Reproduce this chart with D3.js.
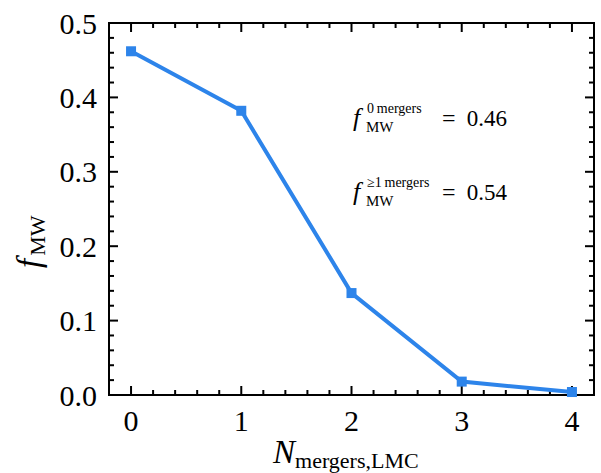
<!DOCTYPE html>
<html><head><meta charset="utf-8">
<script src="https://cdn.jsdelivr.net/npm/d3@7"></script>
<style>body{margin:0;background:#fff}svg{display:block}text{font-family:"Liberation Serif","Times New Roman",serif;fill:#000}</style>
</head><body><svg id="c" width="601" height="473"></svg>
<script>
const nMergers = [0, 1, 2, 3, 4];
const fMW = [0.462, 0.382, 0.137, 0.018, 0.004];
const xTicks = [0, 1, 2, 3, 4];
const yTicks = [0, 0.1, 0.2, 0.3, 0.4, 0.5];
const yTickLabels = ["0.0", "0.1", "0.2", "0.3", "0.4", "0.5"];
const annotations = [{sup: "0\u2009mergers", val: "0.46"}, {sup: "\u22651\u2009mergers", val: "0.54"}];

const svg = d3.select("#c");
const L = 109, R = 594, T = 23, B = 395;
const x = d3.scaleLinear([-0.2, 4.2], [L, R]);
const y = d3.scaleLinear([0, 0.5], [B, T]);
const blue = "#2d84ea";
const serif = "'Liberation Serif','Times New Roman',serif";

const xMinor = d3.range(-0.2, 4.2001, 0.2).map(v => +v.toFixed(2)).filter(v => !xTicks.includes(v) && v > -0.2 && v < 4.2);
const yMinor = d3.range(0, 0.5001, 0.02).map(v => +v.toFixed(2)).filter(v => !yTicks.some(t => Math.abs(t - v) < 1e-9));

const g = svg.append("g");
const tick = (x1, y1, x2, y2) => g.append("line").attr("x1", x1).attr("y1", y1).attr("x2", x2).attr("y2", y2).attr("stroke", "#000").attr("stroke-width", 2);
xTicks.forEach(v => { tick(x(v), B, x(v), B - 9); tick(x(v), T, x(v), T + 9); });
xMinor.forEach(v => { tick(x(v), B, x(v), B - 5); tick(x(v), T, x(v), T + 5); });
yTicks.forEach(v => { tick(L, y(v), L + 9, y(v)); tick(R, y(v), R - 9, y(v)); });
yMinor.forEach(v => { tick(L, y(v), L + 5, y(v)); tick(R, y(v), R - 5, y(v)); });

svg.append("rect").attr("x", L).attr("y", T).attr("width", R - L).attr("height", B - T)
  .attr("fill", "none").attr("stroke", "#000").attr("stroke-width", 2);

svg.selectAll(".xl").data(xTicks).join("text").attr("class", "xl")
  .attr("x", d => x(d)).attr("y", 431).attr("text-anchor", "middle").attr("font-size", 30).text(d => d);
svg.selectAll(".yl").data(yTicks).join("text").attr("class", "yl")
  .attr("x", 97).attr("y", d => y(d) + 10.5).attr("text-anchor", "end").attr("font-size", 30)
  .text((d, i) => yTickLabels[i]);

const line = d3.line().x((d, i) => x(nMergers[i])).y(d => y(d));
svg.append("path").datum(fMW).attr("d", line).attr("fill", "none").attr("stroke", blue).attr("stroke-width", 4);
svg.selectAll(".m").data(fMW).join("rect").attr("class", "m")
  .attr("x", (d, i) => x(nMergers[i]) - 5).attr("y", d => y(d) - 5).attr("width", 10).attr("height", 10).attr("fill", blue);

const xl = svg.append("text").attr("x", 273).attr("y", 463).attr("font-size", 33);
xl.append("tspan").attr("font-style", "italic").text("N");
xl.append("tspan").attr("font-size", 22).attr("dy", 5).text("mergers,LMC");

const yl = svg.append("text").attr("transform", "translate(40,268) rotate(-90)").attr("font-size", 33);
yl.append("tspan").attr("font-style", "italic").text("f");
yl.append("tspan").attr("font-size", 22).attr("dx", 3).attr("dy", 5).text("MW");

annotations.forEach((a, i) => {
  const by = 126 + i * 74;
  svg.append("text").attr("x", 353).attr("y", by).attr("font-family", serif).attr("font-size", 26).attr("font-style", "italic").text("f");
  svg.append("text").attr("x", 367).attr("y", by - 13).attr("font-family", serif).attr("font-size", 14).text(a.sup);
  svg.append("text").attr("x", 366).attr("y", by + 6).attr("font-family", serif).attr("font-size", 15).text("MW");
  svg.append("text").attr("x", 442).attr("y", by).attr("font-family", serif).attr("font-size", 24).text("=");
  svg.append("text").attr("x", 507).attr("y", by).attr("text-anchor", "end").attr("font-family", serif).attr("font-size", 23).text(a.val);
});
</script></body></html>
